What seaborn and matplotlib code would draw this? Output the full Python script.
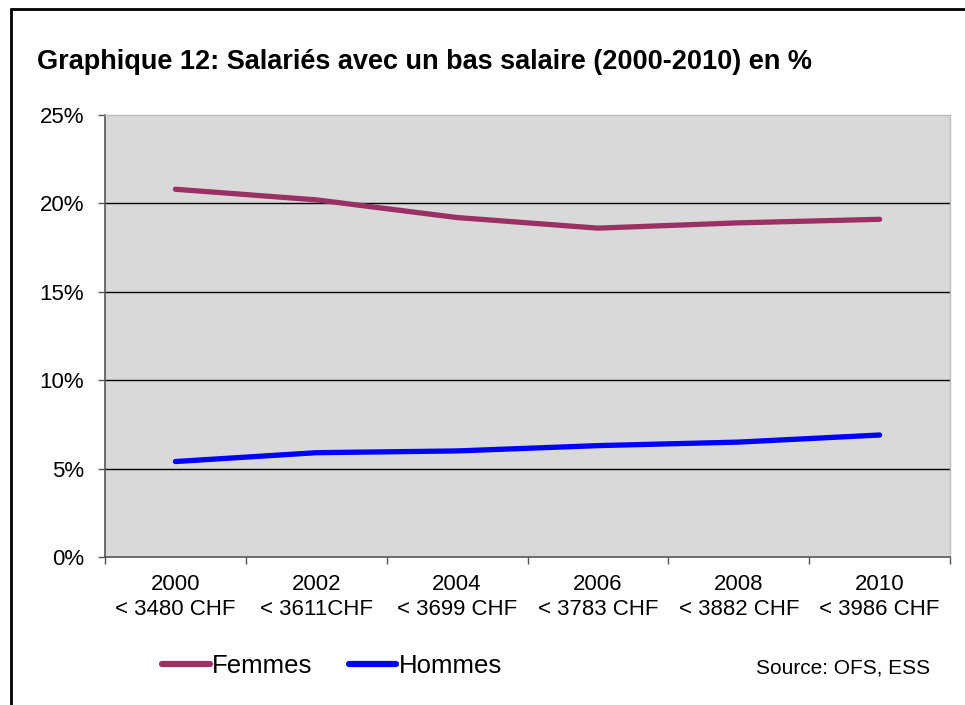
import matplotlib
matplotlib.use("Agg")
import matplotlib.pyplot as plt
import seaborn as sns
import pandas as pd
from matplotlib.lines import Line2D
from matplotlib.ticker import FixedLocator, PercentFormatter

years = ["2000", "2002", "2004", "2006", "2008", "2010"]
thresholds = ["< 3480 CHF", "< 3611CHF", "< 3699 CHF", "< 3783 CHF", "< 3882 CHF", "< 3986 CHF"]
femmes = [20.8, 20.2, 19.2, 18.6, 18.9, 19.1]
hommes = [5.4, 5.9, 6.0, 6.3, 6.5, 6.9]
series_names = ["Femmes", "Hommes"]
colors = ["#9b3064", "#0000ff"]

labels = [f"{y}\n{t}" for y, t in zip(years, thresholds)]
df = pd.DataFrame({
    "cat": labels * 2,
    "val": femmes + hommes,
    "serie": [series_names[0]] * 6 + [series_names[1]] * 6,
})

sns.set_theme(style="white")
plt.rcParams['font.family'] = ['Liberation Sans', 'DejaVu Sans']
plt.rcParams['text.color'] = 'black'
plt.rcParams['xtick.labelcolor'] = 'black'
plt.rcParams['ytick.labelcolor'] = 'black'

fig = plt.figure(figsize=(9.65, 7.05), dpi=100)
ax = fig.add_axes([0.1088, 0.2099, 0.8757, 0.627])
ax.set_facecolor("#d9d9d9")

sns.lineplot(data=df, x="cat", y="val", hue="serie", palette=colors, sort=False,
             linewidth=3.8, ax=ax, legend=False, solid_capstyle="round")

ax.set_xlim(-0.5, 5.5)
ax.set_ylim(0, 25)
ax.set_yticks([0, 5, 10, 15, 20, 25])
ax.yaxis.set_major_formatter(PercentFormatter(decimals=0))
for yv in [5, 10, 15, 20]:
    ax.axhline(yv, color="black", linewidth=1.0, zorder=0.5)

ax.set_xticks(range(6))
ax.set_xticklabels(labels, fontsize=16, linespacing=1.25, color="black")
ax.xaxis.set_minor_locator(FixedLocator([i - 0.5 for i in range(7)]))
ax.tick_params(axis="x", which="major", length=0, pad=12.5)
ax.tick_params(axis="x", which="minor", length=5, width=1, color="#555555", direction="out", bottom=True)
ax.tick_params(axis="y", which="major", length=5, width=1, color="#555555", direction="out", left=True,
               labelsize=16, pad=10, labelcolor="black")
ax.set_xlabel("")
ax.set_ylabel("")

for side in ["left", "bottom"]:
    ax.spines[side].set_color("#555555")
    ax.spines[side].set_linewidth(1.2)
for side in ["top", "right"]:
    ax.spines[side].set_color("#bbbbbb")
    ax.spines[side].set_linewidth(1.0)

fig.text(0.038, 0.912, "Graphique 12: Salariés avec un bas salaire (2000-2010) en %",
         fontsize=19.5, fontweight="bold", ha="left", va="center", color="black")

handles = [Line2D([0], [0], color=c, linewidth=4.5, solid_capstyle="round") for c in colors]
fig.legend(handles, series_names, loc="center left", bbox_to_anchor=(0.168, 0.056),
           ncol=2, frameon=False, fontsize=18.5, handlelength=1.85, handletextpad=0.1,
           columnspacing=1.4, borderpad=0, borderaxespad=0)

fig.text(0.964, 0.052, "Source: OFS, ESS", fontsize=15, ha="right", va="center", color="black")

fig.add_artist(Line2D([0.011, 0.011], [0, 0.987], color="black", linewidth=2, transform=fig.transFigure))
fig.add_artist(Line2D([0.011, 1.0], [0.987, 0.987], color="black", linewidth=2, transform=fig.transFigure))

fig.savefig("out.png", dpi=100, facecolor="white")
